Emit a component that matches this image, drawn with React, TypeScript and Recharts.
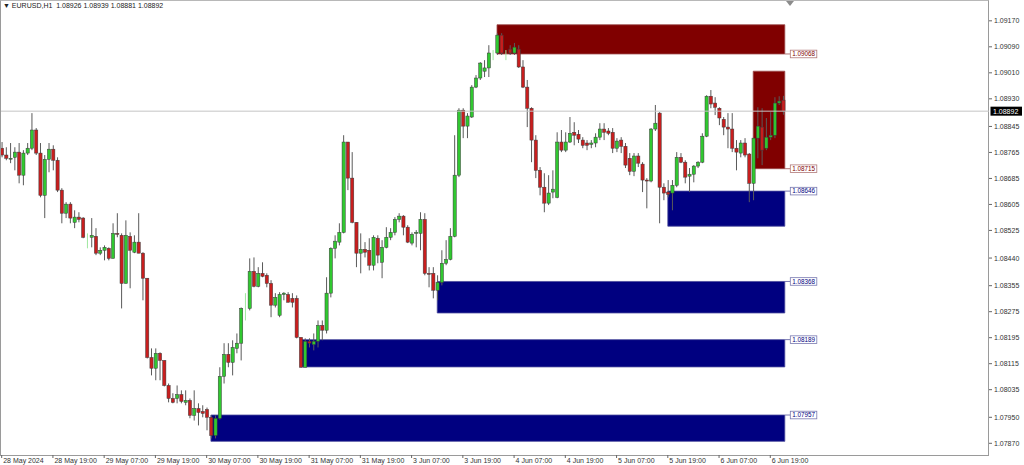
import React from 'react';
import { ComposedChart, Bar, XAxis, YAxis, ReferenceArea, ReferenceLine } from 'recharts';

// EURUSD H1, bars from 28 May 07:00 (index 0) to 6 Jun 22:00 (index 183)
const opens = [
  1.08778, 1.08757, 1.08747, 1.0875, 1.08766, 1.08695, 1.08763, 1.08778, 1.08834, 1.08763,
  1.08633, 1.08744, 1.08775, 1.08741, 1.08649, 1.08578, 1.08606, 1.0855, 1.08566, 1.08563,
  1.08507, 1.08504, 1.08507, 1.08455, 1.08464, 1.0847, 1.08439, 1.08516, 1.0851, 1.08362,
  1.08507, 1.08458, 1.08489, 1.08455, 1.08378, 1.08134, 1.08101, 1.08147, 1.08125, 1.08048,
  1.08008, 1.08008, 1.0802, 1.07996, 1.08002, 1.07956, 1.07977, 1.07968, 1.07974, 1.0795,
  1.07894, 1.07947, 1.08076, 1.08144, 1.08119, 1.08162, 1.08178, 1.08285, 1.08285, 1.08399,
  1.08353, 1.08393, 1.08387, 1.08362, 1.08295, 1.08264, 1.08328, 1.08328, 1.08316, 1.08316,
  1.08196, 1.08104, 1.08184, 1.08174, 1.08184, 1.08233, 1.08218, 1.08332, 1.0847, 1.08489,
  1.08519, 1.08797, 1.08686, 1.0855, 1.08455, 1.08467, 1.08464, 1.08418, 1.08501, 1.08427,
  1.08473, 1.08504, 1.08519, 1.08559, 1.08569, 1.08535, 1.08486, 1.08516, 1.08516, 1.08559,
  1.08393, 1.08393, 1.08341, 1.08365, 1.08424, 1.08436, 1.08507, 1.08695, 1.08895, 1.08846,
  1.08874, 1.08966, 1.08994, 1.09015, 1.09025, 1.09058, 1.09071, 1.09126, 1.09055, 1.09083,
  1.09071, 1.09083, 1.09028, 1.08966, 1.08901, 1.08803, 1.0871, 1.08658, 1.08609, 1.08643,
  1.08627, 1.08797, 1.08772, 1.08797, 1.08827, 1.08821, 1.08803, 1.08794, 1.0879, 1.08794,
  1.08812, 1.08837, 1.08831, 1.08827, 1.08778, 1.08803, 1.08784, 1.08747, 1.08707, 1.08754,
  1.08729, 1.0868, 1.08677, 1.08837, 1.08886, 1.08658, 1.08643, 1.0864, 1.08664, 1.0875,
  1.08735, 1.08692, 1.08698, 1.08723, 1.08735, 1.08815, 1.08938, 1.08917, 1.08901, 1.08867,
  1.08843, 1.08837, 1.08778, 1.08763, 1.08794, 1.0876, 1.0867, 1.08809, 1.08843, 1.08778,
  1.08812, 1.08818, 1.08917, 1.08926,
];
const highs = [
  1.08797, 1.08781, 1.08794, 1.08781, 1.08794, 1.08772, 1.08794, 1.08886, 1.0884, 1.08794,
  1.08757, 1.08794, 1.08787, 1.0875, 1.08655, 1.08612, 1.08612, 1.08587, 1.08581, 1.08566,
  1.08516, 1.08563, 1.08532, 1.08473, 1.08479, 1.08473, 1.08547, 1.08578, 1.08516, 1.08556,
  1.08519, 1.0851, 1.08578, 1.08458, 1.08378, 1.08162, 1.08162, 1.0815, 1.08125, 1.08054,
  1.08024, 1.08048, 1.08033, 1.08033, 1.08008, 1.08033, 1.07993, 1.07987, 1.0798, 1.07956,
  1.07956, 1.08104, 1.08178, 1.08178, 1.08187, 1.08208, 1.08288, 1.08332, 1.08439, 1.08442,
  1.08412, 1.08427, 1.08393, 1.08372, 1.08332, 1.08335, 1.08335, 1.08335, 1.08332, 1.08325,
  1.08196, 1.08193, 1.08193, 1.08208, 1.08248, 1.08248, 1.08381, 1.08473, 1.0851, 1.08547,
  1.08818, 1.08797, 1.08766, 1.0855, 1.08516, 1.08489, 1.08501, 1.0851, 1.0851, 1.08495,
  1.08535, 1.08532, 1.08566, 1.08578, 1.08572, 1.08541, 1.08519, 1.08526, 1.08581, 1.08578,
  1.08412, 1.08412, 1.08387, 1.08464, 1.08495, 1.08532, 1.08818, 1.08901, 1.08901, 1.08886,
  1.08972, 1.09003, 1.09043, 1.09049, 1.09095, 1.0908, 1.09132, 1.09132, 1.0908, 1.09095,
  1.09102, 1.09095, 1.09049, 1.08988, 1.08904, 1.08818, 1.0872, 1.08701, 1.08695, 1.0871,
  1.08827, 1.08834, 1.08827, 1.08874, 1.08858, 1.08834, 1.08812, 1.08803, 1.08803, 1.08824,
  1.08855, 1.08855, 1.0884, 1.0884, 1.08809, 1.08812, 1.08794, 1.08763, 1.08763, 1.08763,
  1.08735, 1.08686, 1.0884, 1.08911, 1.08889, 1.0867, 1.0868, 1.0868, 1.08766, 1.08763,
  1.08741, 1.08717, 1.08726, 1.08738, 1.08824, 1.08941, 1.08957, 1.08935, 1.08904, 1.08874,
  1.08886, 1.08886, 1.08803, 1.08803, 1.08809, 1.08763, 1.08809, 1.08904, 1.08901, 1.08871,
  1.08889, 1.08935, 1.08938, 1.08939,
];
const lows = [
  1.0875, 1.08741, 1.08732, 1.0871, 1.0867, 1.08664, 1.08757, 1.08772, 1.08757, 1.08627,
  1.08563, 1.08704, 1.0871, 1.08643, 1.08547, 1.08563, 1.08547, 1.08532, 1.0855, 1.08501,
  1.0847, 1.08473, 1.08449, 1.08449, 1.08433, 1.08433, 1.08439, 1.08504, 1.08285, 1.08362,
  1.08347, 1.08455, 1.08455, 1.0831, 1.08131, 1.08079, 1.08064, 1.08064, 1.08045, 1.07996,
  1.07993, 1.07993, 1.07993, 1.07987, 1.07947, 1.0794, 1.07925, 1.0795, 1.0791, 1.07885,
  1.07885, 1.07943, 1.08054, 1.08104, 1.08079, 1.08147, 1.08125, 1.08248, 1.08279, 1.0835,
  1.0835, 1.08381, 1.0835, 1.08258, 1.08288, 1.08258, 1.0831, 1.08304, 1.08288, 1.08193,
  1.08104, 1.08104, 1.08165, 1.08156, 1.08165, 1.08187, 1.08208, 1.08319, 1.08439, 1.08479,
  1.08516, 1.08649, 1.08547, 1.08412, 1.08393, 1.08442, 1.08402, 1.08402, 1.08424, 1.08378,
  1.0847, 1.08495, 1.0851, 1.0855, 1.0851, 1.08486, 1.08479, 1.08473, 1.08464, 1.08387,
  1.0835, 1.08316, 1.0831, 1.08356, 1.08418, 1.08433, 1.08504, 1.08689, 1.08809, 1.08809,
  1.08871, 1.08963, 1.08988, 1.08997, 1.08997, 1.09049, 1.09065, 1.09065, 1.09049, 1.09065,
  1.09065, 1.09025, 1.08963, 1.08843, 1.08735, 1.08686, 1.08633, 1.08581, 1.08603, 1.08624,
  1.08624, 1.08766, 1.08766, 1.08794, 1.08787, 1.08794, 1.08778, 1.08772, 1.08778, 1.08781,
  1.08803, 1.08803, 1.08818, 1.08763, 1.08766, 1.08763, 1.08717, 1.08695, 1.08692, 1.0872,
  1.08643, 1.08593, 1.08673, 1.08831, 1.08547, 1.08618, 1.08627, 1.08587, 1.08658, 1.08732,
  1.0867, 1.08643, 1.08673, 1.08717, 1.08732, 1.08812, 1.08901, 1.0888, 1.08849, 1.08818,
  1.08778, 1.08766, 1.0871, 1.0875, 1.0875, 1.08612, 1.08618, 1.08747, 1.08726, 1.08772,
  1.08803, 1.08809, 1.08911, 1.08881,
];
const closes = [
  1.08757, 1.08747, 1.08747, 1.08766, 1.08695, 1.08763, 1.08778, 1.08834, 1.08763, 1.08633,
  1.08744, 1.08775, 1.08741, 1.08649, 1.08578, 1.08606, 1.08563, 1.08566, 1.08559, 1.08504,
  1.0851, 1.0851, 1.08455, 1.08464, 1.08473, 1.08439, 1.08516, 1.08513, 1.08362, 1.0851,
  1.08464, 1.08489, 1.08455, 1.08378, 1.08134, 1.08101, 1.08147, 1.08125, 1.08048, 1.08008,
  1.07996, 1.0802, 1.07999, 1.08002, 1.07956, 1.07977, 1.07965, 1.07962, 1.0795, 1.07894,
  1.07947, 1.08076, 1.08144, 1.08119, 1.08165, 1.08178, 1.08285, 1.08292, 1.08399, 1.08353,
  1.08393, 1.08384, 1.08362, 1.08295, 1.08319, 1.08328, 1.08332, 1.08304, 1.08304, 1.08196,
  1.08104, 1.08184, 1.08178, 1.08184, 1.08233, 1.08218, 1.08332, 1.0847, 1.08492, 1.08519,
  1.08797, 1.08686, 1.0855, 1.08455, 1.08467, 1.08458, 1.08418, 1.08504, 1.08449, 1.08473,
  1.08504, 1.08519, 1.08559, 1.08569, 1.08535, 1.08489, 1.08513, 1.08519, 1.08559, 1.08393,
  1.0839, 1.08341, 1.08365, 1.08424, 1.08436, 1.08507, 1.08695, 1.08895, 1.08846, 1.08877,
  1.08966, 1.08994, 1.0904, 1.09025, 1.09071, 1.09074, 1.09126, 1.09071, 1.09074, 1.09071,
  1.09089, 1.09028, 1.08966, 1.08901, 1.08803, 1.0871, 1.08658, 1.08609, 1.0864, 1.08652,
  1.08797, 1.08772, 1.08797, 1.08824, 1.08818, 1.08806, 1.08787, 1.08787, 1.08794, 1.08812,
  1.08837, 1.08827, 1.08824, 1.08778, 1.088, 1.08784, 1.08726, 1.08707, 1.08754, 1.08732,
  1.0868, 1.08677, 1.08837, 1.08855, 1.08658, 1.0864, 1.08636, 1.08664, 1.0875, 1.08735,
  1.08689, 1.08698, 1.08723, 1.08735, 1.08815, 1.08938, 1.08914, 1.08904, 1.08871, 1.08843,
  1.08837, 1.08778, 1.08766, 1.08794, 1.08757, 1.0867, 1.08809, 1.08846, 1.08772, 1.08812,
  1.08818, 1.08917, 1.08923, 1.08892,
];
const faintBars = [20, 57, 115, 118];

const xTickIdx = [0, 12, 24, 36, 48, 60, 72, 84, 96, 108, 120, 132, 144, 156, 168, 180];
const xTickLabels = [
  '28 May 2024', '28 May 19:00', '29 May 07:00', '29 May 19:00', '30 May 07:00', '30 May 19:00',
  '31 May 07:00', '31 May 19:00', '3 Jun 07:00', '3 Jun 19:00', '4 Jun 07:00', '4 Jun 19:00',
  '5 Jun 07:00', '5 Jun 19:00', '6 Jun 07:00', '6 Jun 19:00',
];
const yTicks = [
  1.0917, 1.0909, 1.0901, 1.0893, 1.08845, 1.08765, 1.08685, 1.08605, 1.08525, 1.0844,
  1.08355, 1.08275, 1.08195, 1.08115, 1.08035, 1.0795, 1.0787,
];

const zoneIsSupply = [false, false, false, false, true, true];
const zoneStartIdx = [49, 70, 102, 156, 116, 176];
const zoneEndIdx = [183.4, 183.4, 183.4, 183.4, 183.4, 183.4];
const zoneTop = [1.07957, 1.08189, 1.08368, 1.08646, 1.09158, 1.09015];
const zoneBottom = [1.07876, 1.08105, 1.08271, 1.08538, 1.09068, 1.08715];
const zoneLabels = ['1.07957', '1.08189', '1.08368', '1.08646', '1.09068', '1.08715'];

const symbolTitle = 'EURUSD,H1';
const lastPrice = 1.08892;

const FONT = "'Liberation Sans', Arial, sans-serif";

const data = opens.map((o, i) => ({
  i,
  o,
  h: highs[i],
  l: lows[i],
  c: closes[i],
  faint: faintBars.includes(i),
}));

function Candle(props: any) {
  const { x, y, width, height, payload } = props;
  if (x == null || y == null || !payload) return null;
  const { o, h, l, c, faint } = payload;
  const top = height >= 0 ? y : y + height;
  const hh = Math.abs(height);
  const span = h - l;
  const k = span > 0 ? hh / span : 0;
  const py = (v: number) => top + (h - v) * k;
  const cx = x + width / 2;
  const bTop = py(Math.max(o, c));
  const bBot = py(Math.min(o, c));
  if (faint) {
    return (
      <g>
        <line x1={cx} x2={cx} y1={top} y2={top + hh} stroke="#9fe79f" strokeWidth={1} />
      </g>
    );
  }
  const up = c >= o;
  return (
    <g>
      <line x1={cx} x2={cx} y1={top} y2={top + hh} stroke="#5a5a5a" strokeWidth={1} />
      <rect
        x={cx - 1.6}
        y={bTop}
        width={3.2}
        height={Math.max(bBot - bTop, 0.9)}
        fill={up ? '#30c830' : '#c81e1e'}
        stroke="#3a3a3a"
        strokeWidth={0.5}
      />
    </g>
  );
}

function XTick(props: any) {
  const { x, y, payload } = props;
  const k = xTickIdx.indexOf(payload.value);
  return (
    <g>
      <line x1={x} x2={x} y1={y} y2={y + 3} stroke="#666" strokeWidth={1} />
      <text x={x + 1.5} y={y + 8.3} fontSize={7} fill="#333" fontFamily={FONT} textAnchor="start">
        {k >= 0 ? xTickLabels[k] : ''}
      </text>
    </g>
  );
}

function YTick(props: any) {
  const { x, y, payload } = props;
  return (
    <g>
      <line x1={x} x2={x + 3} y1={y} y2={y} stroke="#666" strokeWidth={1} />
      <text x={x + 5} y={y + 2.5} fontSize={7} fill="#333" fontFamily={FONT} textAnchor="start">
        {Number(payload.value).toFixed(5)}
      </text>
    </g>
  );
}

function ZoneTag(props: any) {
  const { viewBox, text, supply } = props;
  if (!viewBox) return null;
  const right = viewBox.x + viewBox.width;
  const yy = supply ? viewBox.y + viewBox.height : viewBox.y;
  const border = supply ? '#b07878' : '#7878b0';
  const color = supply ? '#800000' : '#000080';
  return (
    <g>
      <line x1={right} x2={right + 5.5} y1={yy} y2={yy} stroke={border} strokeWidth={1} />
      <rect x={right + 5.5} y={yy - 3.8} width={26.5} height={7.6} fill="#fff" stroke={border} strokeWidth={0.8} />
      <text x={right + 18.75} y={yy + 2.2} textAnchor="middle" fontSize={6.3} fill={color} fontFamily={FONT}>
        {text}
      </text>
    </g>
  );
}

function PriceTag(props: any) {
  const { viewBox } = props;
  if (!viewBox) return null;
  const xr = viewBox.x + viewBox.width;
  const yy = viewBox.y;
  return (
    <g>
      <rect x={xr + 1.5} y={yy - 4.5} width={31.5} height={9} fill="#000" />
      <text x={xr + 4} y={yy + 2.5} fontSize={7} fill="#fff" fontFamily={FONT}>
        {lastPrice.toFixed(5)}
      </text>
    </g>
  );
}

export default function App() {
  const last = data[data.length - 1];
  return (
    <div style={{ position: 'absolute', left: 0, top: 0, width: 1024, height: 465, background: '#fff', overflow: 'hidden' }}>
      <div
        style={{
          position: 'absolute', left: 0, top: 0, width: 989, height: 456,
          border: '1px solid #9a9a9a', borderTopColor: '#b8b8b8', boxSizing: 'border-box',
        }}
      />
      <ComposedChart
        width={1024}
        height={465}
        data={data}
        margin={{ top: 1, right: 0, bottom: 0, left: 1 }}
        style={{ position: 'absolute', left: 0, top: 0 }}
      >
        <XAxis
          dataKey="i"
          type="number"
          domain={[-0.16, 231.22]}
          allowDataOverflow
          ticks={xTickIdx}
          interval={0}
          tick={<XTick />}
          tickSize={0}
          tickMargin={0}
          tickLine={false}
          axisLine={false}
          height={10}
        />
        <YAxis
          orientation="right"
          type="number"
          domain={[1.07834, 1.09231]}
          allowDataOverflow
          ticks={yTicks}
          interval={0}
          tick={<YTick />}
          tickSize={0}
          tickMargin={0}
          tickLine={false}
          axisLine={false}
          width={35}
        />
        {zoneTop.map((t, k) => (
          <ReferenceArea
            key={'z' + k}
            x1={zoneStartIdx[k]}
            x2={zoneEndIdx[k]}
            y1={zoneBottom[k]}
            y2={t}
            fill={zoneIsSupply[k] ? '#800000' : '#000080'}
            fillOpacity={1}
            stroke={zoneIsSupply[k] ? '#9c4a4a' : '#4a4a9c'}
            strokeWidth={0.8}
            label={<ZoneTag text={zoneLabels[k]} supply={zoneIsSupply[k]} />}
          />
        ))}
        <ReferenceLine y={lastPrice} stroke="#c4c4c4" strokeWidth={1} label={<PriceTag />} />
        <Bar
          dataKey={(d: any) => [d.l, d.h]}
          barSize={3}
          shape={(p: any) => <Candle {...p} />}
          isAnimationActive={false}
        />
      </ComposedChart>
      <div
        style={{
          position: 'absolute', left: 786, top: 1, width: 0, height: 0,
          borderLeft: '4px solid transparent', borderRight: '4px solid transparent', borderTop: '5px solid #8c8c8c',
        }}
      />
      <div
        style={{
          position: 'absolute', left: 3, top: 1, fontFamily: FONT, fontSize: 7, color: '#222',
          whiteSpace: 'pre', lineHeight: '10px',
        }}
      >
        {'\u25BC ' + symbolTitle + '  ' + [last.o, last.h, last.l, last.c].map((v) => v.toFixed(5)).join(' ')}
      </div>
    </div>
  );
}
